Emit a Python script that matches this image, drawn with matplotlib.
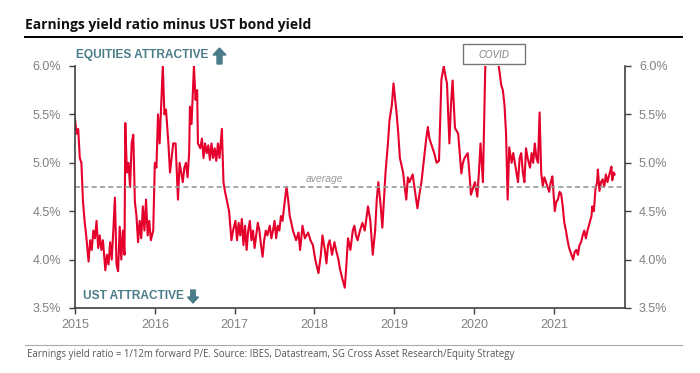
import matplotlib
matplotlib.use("Agg")
import matplotlib.pyplot as plt
import numpy as np
from matplotlib.patches import Rectangle, FancyArrow

# series: decimal year, spread (%)
years = [
    2015.00, 2015.02, 2015.04, 2015.06, 2015.08, 2015.10, 2015.12, 2015.14, 2015.17, 2015.19,
    2015.21, 2015.23, 2015.25, 2015.27, 2015.29, 2015.31, 2015.33, 2015.35, 2015.38, 2015.40,
    2015.42, 2015.44, 2015.46, 2015.48, 2015.50, 2015.52, 2015.54, 2015.56, 2015.58, 2015.60,
    2015.62, 2015.63, 2015.65, 2015.67, 2015.69, 2015.71, 2015.73, 2015.75, 2015.77, 2015.79,
    2015.81, 2015.83, 2015.85, 2015.87, 2015.89, 2015.91, 2015.93, 2015.95, 2015.98, 2016.00,
    2016.02, 2016.04, 2016.06, 2016.08, 2016.10, 2016.12, 2016.14, 2016.17, 2016.19, 2016.21,
    2016.23, 2016.26, 2016.29, 2016.31, 2016.33, 2016.35, 2016.37, 2016.39, 2016.41, 2016.43,
    2016.44, 2016.46, 2016.49, 2016.51, 2016.53, 2016.54, 2016.57, 2016.59, 2016.61, 2016.63,
    2016.65, 2016.67, 2016.69, 2016.71, 2016.73, 2016.75, 2016.77, 2016.79, 2016.81, 2016.84,
    2016.86, 2016.88, 2016.90, 2016.93, 2016.96, 2016.98, 2017.01, 2017.03, 2017.05, 2017.07,
    2017.09, 2017.11, 2017.13, 2017.15, 2017.17, 2017.19, 2017.21, 2017.23, 2017.25, 2017.27,
    2017.29, 2017.31, 2017.33, 2017.35, 2017.37, 2017.39, 2017.41, 2017.44, 2017.46, 2017.48,
    2017.50, 2017.52, 2017.54, 2017.56, 2017.58, 2017.60, 2017.62, 2017.65, 2017.67, 2017.69,
    2017.71, 2017.73, 2017.75, 2017.77, 2017.80, 2017.82, 2017.85, 2017.88, 2017.92, 2017.95,
    2017.98, 2018.01, 2018.05, 2018.08, 2018.10, 2018.13, 2018.15, 2018.17, 2018.19, 2018.22,
    2018.25, 2018.27, 2018.30, 2018.32, 2018.35, 2018.38, 2018.40, 2018.42, 2018.45, 2018.48,
    2018.50, 2018.52, 2018.54, 2018.57, 2018.60, 2018.63, 2018.67, 2018.70, 2018.73, 2018.76,
    2018.78, 2018.80, 2018.83, 2018.85, 2018.89, 2018.92, 2018.94, 2018.97, 2018.99, 2019.03,
    2019.05, 2019.07, 2019.11, 2019.13, 2019.15, 2019.17, 2019.19, 2019.23, 2019.26, 2019.29,
    2019.31, 2019.34, 2019.38, 2019.40, 2019.42, 2019.44, 2019.46, 2019.50, 2019.53, 2019.56,
    2019.59, 2019.62, 2019.64, 2019.66, 2019.69, 2019.71, 2019.73, 2019.76, 2019.80, 2019.82,
    2019.84, 2019.86, 2019.88, 2019.92, 2019.94, 2019.96, 2020.01, 2020.04, 2020.06, 2020.08,
    2020.11, 2020.14, 2020.17, 2020.19, 2020.23, 2020.26, 2020.29, 2020.32, 2020.34, 2020.36,
    2020.38, 2020.40, 2020.42, 2020.44, 2020.47, 2020.49, 2020.51, 2020.53, 2020.55, 2020.57,
    2020.59, 2020.61, 2020.63, 2020.65, 2020.67, 2020.70, 2020.72, 2020.74, 2020.76, 2020.78,
    2020.80, 2020.82, 2020.84, 2020.86, 2020.88, 2020.90, 2020.92, 2020.94, 2020.96, 2020.98,
    2021.01, 2021.03, 2021.05, 2021.07, 2021.09, 2021.11, 2021.13, 2021.15, 2021.17, 2021.19,
    2021.22, 2021.24, 2021.26, 2021.28, 2021.30, 2021.32, 2021.34, 2021.36, 2021.38, 2021.40,
    2021.42, 2021.45, 2021.47, 2021.48, 2021.50, 2021.52, 2021.54, 2021.55, 2021.57, 2021.59,
    2021.61, 2021.63, 2021.65, 2021.67, 2021.70, 2021.72, 2021.73, 2021.75, 2021.76,
]
spread = [
    5.45, 5.30, 5.35, 5.05, 5.00, 4.60, 4.40, 4.25, 3.98, 4.20,
    4.10, 4.30, 4.22, 4.40, 4.12, 4.25, 4.10, 4.20, 3.89, 4.05,
    3.95, 4.18, 4.00, 4.30, 4.64, 3.95, 3.88, 4.34, 4.00, 4.30,
    4.05, 5.41, 4.90, 5.00, 4.75, 5.20, 5.29, 4.60, 4.45, 4.18,
    4.40, 4.22, 4.55, 4.30, 4.62, 4.25, 4.40, 4.20, 4.30, 5.00,
    4.95, 5.50, 5.20, 5.60, 6.00, 5.50, 5.55, 5.20, 4.90, 5.05,
    5.20, 5.20, 4.62, 5.00, 4.90, 4.80, 4.95, 5.00, 4.85, 5.10,
    5.58, 5.40, 6.00, 5.65, 5.75, 5.20, 5.15, 5.25, 5.05, 5.20,
    5.10, 5.18, 5.03, 5.20, 5.05, 5.15, 5.02, 5.20, 5.05, 5.35,
    4.80, 4.70, 4.62, 4.50, 4.20, 4.30, 4.40, 4.20, 4.38, 4.25,
    4.42, 4.15, 4.35, 4.10, 4.30, 4.40, 4.20, 4.30, 4.12, 4.25,
    4.38, 4.30, 4.15, 4.03, 4.20, 4.30, 4.25, 4.35, 4.22, 4.30,
    4.40, 4.22, 4.35, 4.30, 4.45, 4.40, 4.55, 4.75, 4.62, 4.45,
    4.38, 4.30, 4.25, 4.20, 4.28, 4.10, 4.35, 4.22, 4.28, 4.20,
    4.15, 4.00, 3.86, 4.05, 4.25, 4.10, 3.96, 4.15, 4.20, 4.05,
    4.18, 4.10, 4.00, 3.90, 3.80, 3.71, 3.95, 4.22, 4.10, 4.30,
    4.35, 4.25, 4.20, 4.30, 4.38, 4.30, 4.55, 4.40, 4.05, 4.30,
    4.62, 4.80, 4.55, 4.33, 4.90, 5.20, 5.44, 5.60, 5.82, 5.50,
    5.30, 5.05, 4.90, 4.75, 4.62, 4.85, 4.80, 4.88, 4.70, 4.53,
    4.65, 4.80, 5.10, 5.25, 5.37, 5.25, 5.20, 5.10, 5.00, 5.02,
    5.86, 6.00, 5.90, 5.82, 5.20, 5.60, 5.85, 5.36, 5.30, 5.10,
    4.89, 5.00, 5.05, 5.10, 4.90, 4.67, 4.80, 4.65, 4.90, 5.20,
    4.80, 6.00, 6.60, 6.70, 6.50, 6.40, 6.10, 5.93, 5.80, 5.75,
    5.60, 5.30, 4.62, 5.16, 5.00, 5.10, 5.00, 4.90, 4.80, 5.05,
    5.10, 4.90, 4.80, 5.15, 5.05, 4.95, 5.10, 5.00, 5.20, 5.05,
    5.00, 5.52, 4.90, 4.76, 4.85, 4.80, 4.75, 4.70, 4.80, 4.86,
    4.50, 4.60, 4.62, 4.70, 4.68, 4.55, 4.38, 4.30, 4.20, 4.12,
    4.05, 4.00, 4.08, 4.10, 4.05, 4.15, 4.18, 4.25, 4.30, 4.22,
    4.30, 4.39, 4.45, 4.55, 4.50, 4.73, 4.80, 4.93, 4.71, 4.80,
    4.83, 4.75, 4.88, 4.80, 4.90, 4.96, 4.82, 4.90, 4.88,
]

average = 4.75
yticks = [3.5, 4.0, 4.5, 5.0, 5.5, 6.0]
xticks = [2015, 2016, 2017, 2018, 2019, 2020, 2021]

title = "Earnings yield ratio minus UST bond yield"
footnote = "Earnings yield ratio = 1/12m forward P/E. Source: IBES, Datastream, SG Cross Asset Research/Equity Strategy"

red = "#e4002b"
teal = "#4a7c89"
grey_txt = "#808080"
spine_col = "#404040"

fig = plt.figure(figsize=(7.0, 3.73), dpi=100)
fig.patch.set_facecolor("white")
ax = fig.add_axes([75 / 700, 1 - 308 / 373, 550 / 700, 242 / 373])

ax.plot(years, spread, color=red, lw=1.5, clip_on=True)
ax.axhline(average, color="#999999", lw=1.2, ls=(0, (3, 2)))
ax.text(2018.12, average + 0.03, "average", color="#999999", fontsize=7.5,
        style="italic", ha="center", va="bottom", family="Liberation Sans")

ax.set_xlim(2015, 2021.89)
ax.set_ylim(3.5, 6.0)
ax.set_xticks(xticks)
ax.set_xticklabels([str(y) for y in xticks])
ax.set_yticks(yticks)
ax.set_yticklabels([f"{v:.1f}%" for v in yticks])

ax.spines["top"].set_visible(False)
for s in ["left", "right", "bottom"]:
    ax.spines[s].set_color(spine_col)
    ax.spines[s].set_linewidth(1.2)

ax.tick_params(axis="both", colors=spine_col, labelcolor=grey_txt, labelsize=9,
               direction="out", length=4, width=1)
ax.tick_params(axis="y", right=True, labelright=True, pad=6)
ax.tick_params(axis="x", pad=4)
for lbl in ax.get_xticklabels() + ax.get_yticklabels():
    lbl.set_family("Liberation Sans")

# annotations
fig.text(76 / 700, 1 - 55 / 373, "EQUITIES ATTRACTIVE", color=teal,
         fontsize=8.6, fontweight="bold", ha="left", va="center", family="Liberation Sans")
fig.text(83 / 700, 1 - 296 / 373, "UST ATTRACTIVE", color=teal,
         fontsize=8.6, fontweight="bold", ha="left", va="center", family="Liberation Sans")
px = fig.dpi_scale_trans
fig.patches.append(FancyArrow(2.195, (373 - 64) / 100, 0, 0.16, width=0.05,
                              head_width=0.13, head_length=0.07,
                              length_includes_head=True, color=teal, transform=px))
fig.patches.append(FancyArrow(1.93, (373 - 290) / 100, 0, -0.13, width=0.045,
                              head_width=0.11, head_length=0.06,
                              length_includes_head=True, color=teal, transform=px))

# COVID label box
fig.patches.append(Rectangle((463 / 700, 1 - 64 / 373), 62 / 700, 20 / 373,
                             transform=fig.transFigure, facecolor="white",
                             edgecolor="#777777", lw=1.0, zorder=5))
fig.text(494 / 700, 1 - 55 / 373, "COVID", color=grey_txt, fontsize=7,
         style="italic", ha="center", va="center", family="Liberation Sans", zorder=6)

# title and rules
fig.text(25 / 700, 1 - 25 / 373, title, fontsize=10.0, fontweight="bold",
         ha="left", va="center", family="Open Sans", color="#111111")
fig.add_artist(plt.Line2D([25 / 700, 682 / 700], [1 - 37 / 373, 1 - 37 / 373],
                          color="black", lw=1.4, transform=fig.transFigure))
fig.add_artist(plt.Line2D([25 / 700, 682 / 700], [1 - 345 / 373, 1 - 345 / 373],
                          color="#aaaaaa", lw=0.8, transform=fig.transFigure))
fig.text(27 / 700, 1 - 355 / 373, footnote, fontsize=6.95, ha="left", va="center",
         family="Open Sans", color="#555555")

fig.savefig("out.png", dpi=100)
